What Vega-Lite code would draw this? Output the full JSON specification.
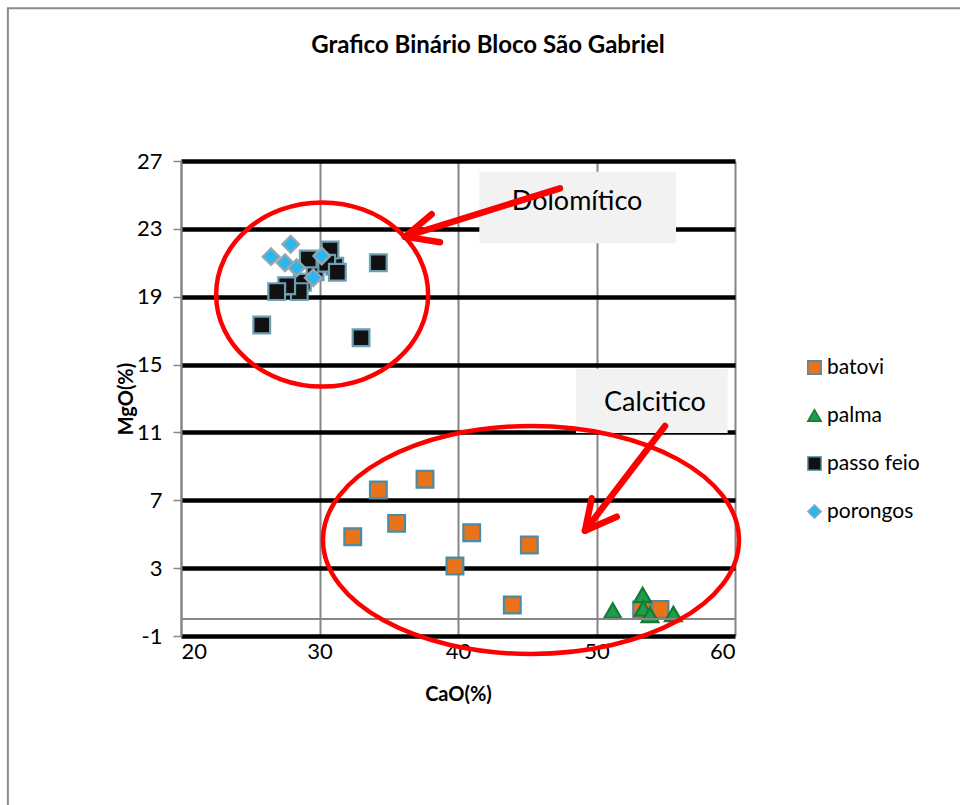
{
  "$schema": "https://vega.github.io/schema/vega-lite/v6.json",
  "width": 554,
  "height": 475,
  "autosize": {"type": "none"},
  "padding": {"left": 181, "top": 161, "right": 225, "bottom": 169},
  "background": "white",
  "config": {
    "view": {"stroke": null},
    "font": "Lato",
    "axis": {"labelFont": "Lato", "titleFont": "Lato", "labelColor": "#000", "titleColor": "#000"},
    "legend": {"labelFont": "Lato", "labelColor": "#000"}
  },
  "title": {
    "text": "Grafico Binário Bloco São Gabriel",
    "fontSize": 24,
    "fontWeight": "bold",
    "font": "Lato",
    "color": "#000",
    "anchor": "middle",
    "frame": "group",
    "dx": 30,
    "offset": -51
  },
  "datasets": {
    "pts": [
      {"serie": "batovi", "CaO": 34.25, "MgO": 7.61},
      {"serie": "batovi", "CaO": 37.62, "MgO": 8.24},
      {"serie": "batovi", "CaO": 35.57, "MgO": 5.64},
      {"serie": "batovi", "CaO": 32.4, "MgO": 4.85},
      {"serie": "batovi", "CaO": 40.99, "MgO": 5.09},
      {"serie": "batovi", "CaO": 45.15, "MgO": 4.36},
      {"serie": "batovi", "CaO": 39.78, "MgO": 3.13},
      {"serie": "batovi", "CaO": 43.92, "MgO": 0.83},
      {"serie": "batovi", "CaO": 53.26, "MgO": 0.53},
      {"serie": "batovi", "CaO": 54.58, "MgO": 0.57},
      {"serie": "palma", "CaO": 51.17, "MgO": 0.5},
      {"serie": "palma", "CaO": 53.33, "MgO": 1.42},
      {"serie": "palma", "CaO": 53.38, "MgO": 0.62},
      {"serie": "palma", "CaO": 53.86, "MgO": 0.24},
      {"serie": "palma", "CaO": 55.55, "MgO": 0.3},
      {"serie": "passo feio", "CaO": 29.68, "MgO": 20.47},
      {"serie": "passo feio", "CaO": 31.1, "MgO": 20.8},
      {"serie": "passo feio", "CaO": 30.76, "MgO": 21.75},
      {"serie": "passo feio", "CaO": 29.19, "MgO": 21.22},
      {"serie": "passo feio", "CaO": 30.52, "MgO": 20.97},
      {"serie": "passo feio", "CaO": 31.29, "MgO": 20.44},
      {"serie": "passo feio", "CaO": 34.25, "MgO": 21.0},
      {"serie": "passo feio", "CaO": 28.76, "MgO": 19.85},
      {"serie": "passo feio", "CaO": 28.54, "MgO": 19.3},
      {"serie": "passo feio", "CaO": 27.63, "MgO": 19.65},
      {"serie": "passo feio", "CaO": 26.91, "MgO": 19.3},
      {"serie": "passo feio", "CaO": 25.83, "MgO": 17.33},
      {"serie": "passo feio", "CaO": 33.0, "MgO": 16.58},
      {"serie": "porongos", "CaO": 27.92, "MgO": 22.09},
      {"serie": "porongos", "CaO": 26.5, "MgO": 21.36},
      {"serie": "porongos", "CaO": 27.51, "MgO": 21.0},
      {"serie": "porongos", "CaO": 28.35, "MgO": 20.71},
      {"serie": "porongos", "CaO": 30.16, "MgO": 21.4},
      {"serie": "porongos", "CaO": 29.55, "MgO": 20.12}
    ],
    "zeroline": [{"x1": 20, "x2": 60, "y": 0}],
    "border": [{"x1": 7.5, "x2": 95, "y1": -40, "y2": 36.0}],
    "boxes": [
      {"label": "Dolomítico", "x1": 41.54, "x2": 55.74, "y1": 26.37, "y2": 22.15, "tx": 48.6, "ty": 24.11},
      {"label": "Calcitico", "x1": 48.52, "x2": 59.47, "y1": 14.75, "y2": 10.97, "tx": 54.22, "ty": 12.26}
    ],
    "ellipses": [
      {"name": "dolomitico", "CaO": 30.19, "MgO": 19.13},
      {"name": "calcitico", "CaO": 45.27, "MgO": 4.66}
    ],
    "arrows": [
      {"part": "shaft1", "x1": 47.36, "y1": 25.39, "x2": 36.17, "y2": 22.54},
      {"part": "wing1a", "x1": 38.1, "y1": 23.86, "x2": 36.17, "y2": 22.54},
      {"part": "wing1b", "x1": 38.7, "y1": 22.21, "x2": 36.17, "y2": 22.54},
      {"part": "shaft2", "x1": 54.95, "y1": 11.38, "x2": 49.17, "y2": 5.21},
      {"part": "wing2a", "x1": 49.65, "y1": 7.12, "x2": 49.17, "y2": 5.21},
      {"part": "wing2b", "x1": 51.46, "y1": 6.03, "x2": 49.17, "y2": 5.21}
    ]
  },
  "layer": [
    {
      "data": {"name": "pts"},
      "mark": {"type": "point", "filled": true, "strokeWidth": 2.2, "size": 280, "opacity": 1},
      "encoding": {
        "x": {
          "field": "CaO", "type": "quantitative",
          "scale": {"domain": [20, 60], "nice": false, "zero": false},
          "axis": {
            "values": [20, 30, 40, 50, 60],
            "title": "CaO(%)",
            "titleFontSize": 20,
            "titleFontWeight": "bold",
            "titlePadding": 22,
            "labelFontSize": 22,
            "labelPadding": 5,
            "grid": true,
            "gridColor": "#868686",
            "gridWidth": 2,
            "domain": false,
            "ticks": false
          }
        },
        "y": {
          "field": "MgO", "type": "quantitative",
          "scale": {"domain": [-1, 27], "nice": false, "zero": false},
          "axis": {
            "values": [-1, 3, 7, 11, 15, 19, 23, 27],
            "labelExpr": "replace(datum.label, '−', '-')",
            "title": "MgO(%)",
            "titleFontSize": 20,
            "titleFontWeight": "bold",
            "titlePadding": 0,
            "labelFontSize": 22,
            "labelPadding": 11,
            "grid": true,
            "gridColor": "#000000",
            "gridWidth": 4.5,
            "domain": true,
            "domainColor": "#868686",
            "domainWidth": 2,
            "ticks": true,
            "tickColor": "#868686",
            "tickSize": 8,
            "tickWidth": 1.5
          }
        },
        "shape": {
          "field": "serie", "type": "nominal",
          "scale": {"domain": ["batovi", "palma", "passo feio", "porongos"], "range": ["square", "triangle-up", "square", "diamond"]},
          "legend": {"title": null, "orient": "none", "legendX": 623, "legendY": 196, "labelFontSize": 21, "labelOffset": 2, "symbolSize": 180, "symbolStrokeWidth": 1.5, "symbolOpacity": 1, "rowPadding": 26}
        },
        "fill": {
          "field": "serie", "type": "nominal",
          "scale": {"domain": ["batovi", "palma", "passo feio", "porongos"], "range": ["#e8731a", "#1f9d4a", "#111111", "#2bb6ef"]},
          "legend": {"title": null, "orient": "none", "legendX": 623, "legendY": 196, "labelFontSize": 21, "labelOffset": 2, "symbolSize": 180, "symbolStrokeWidth": 1.5, "symbolOpacity": 1, "rowPadding": 26}
        },
        "stroke": {
          "field": "serie", "type": "nominal",
          "scale": {"domain": ["batovi", "palma", "passo feio", "porongos"], "range": ["#4a8ca3", "#137a38", "#6c9fb2", "#9aa6ad"]},
          "legend": {"title": null, "orient": "none", "legendX": 623, "legendY": 196, "labelFontSize": 21, "labelOffset": 2, "symbolSize": 180, "symbolStrokeWidth": 1.5, "symbolOpacity": 1, "rowPadding": 26}
        }
      }
    },
    {
      "data": {"name": "border"},
      "mark": {"type": "rect", "fill": null, "stroke": "#8c8c8c", "strokeWidth": 2},
      "encoding": {
        "x": {"field": "x1", "type": "quantitative"},
        "x2": {"field": "x2"},
        "y": {"field": "y1", "type": "quantitative"},
        "y2": {"field": "y2"}
      }
    },
    {
      "data": {"name": "zeroline"},
      "mark": {"type": "rule", "color": "#868686", "strokeWidth": 2},
      "encoding": {
        "x": {"field": "x1", "type": "quantitative"},
        "x2": {"field": "x2"},
        "y": {"field": "y", "type": "quantitative"}
      }
    },
    {
      "data": {"name": "boxes"},
      "mark": {"type": "rect", "fill": "#f2f2f2", "stroke": null},
      "encoding": {
        "x": {"field": "x1", "type": "quantitative"},
        "x2": {"field": "x2"},
        "y": {"field": "y1", "type": "quantitative"},
        "y2": {"field": "y2"}
      }
    },
    {
      "data": {"name": "boxes"},
      "mark": {"type": "text", "fontSize": 27, "font": "Lato", "color": "#000", "align": "center", "baseline": "alphabetic"},
      "encoding": {
        "x": {"field": "tx", "type": "quantitative"},
        "y": {"field": "ty", "type": "quantitative"},
        "text": {"field": "label"}
      }
    },
    {
      "data": {"name": "ellipses"},
      "transform": [{"filter": "datum.name === 'dolomitico'"}],
      "mark": {"type": "point", "filled": false, "stroke": "#ff0000", "strokeWidth": 4.5, "opacity": 1, "size": 44944, "shape": "M -1 0 A 1 0.868 0 1 0 1 0 A 1 0.868 0 1 0 -1 0 Z"},
      "encoding": {
        "x": {"field": "CaO", "type": "quantitative"},
        "y": {"field": "MgO", "type": "quantitative"}
      }
    },
    {
      "data": {"name": "ellipses"},
      "transform": [{"filter": "datum.name === 'calcitico'"}],
      "mark": {"type": "point", "filled": false, "stroke": "#ff0000", "strokeWidth": 4.5, "opacity": 1, "size": 173056, "shape": "M -1 0 A 1 0.548 0 1 0 1 0 A 1 0.548 0 1 0 -1 0 Z"},
      "encoding": {
        "x": {"field": "CaO", "type": "quantitative"},
        "y": {"field": "MgO", "type": "quantitative"}
      }
    },
    {
      "data": {"name": "arrows"},
      "mark": {"type": "rule", "color": "#ff0000", "strokeWidth": 6.5, "strokeCap": "round"},
      "encoding": {
        "x": {"field": "x1", "type": "quantitative"},
        "y": {"field": "y1", "type": "quantitative"},
        "x2": {"field": "x2"},
        "y2": {"field": "y2"}
      }
    }
  ]
}
